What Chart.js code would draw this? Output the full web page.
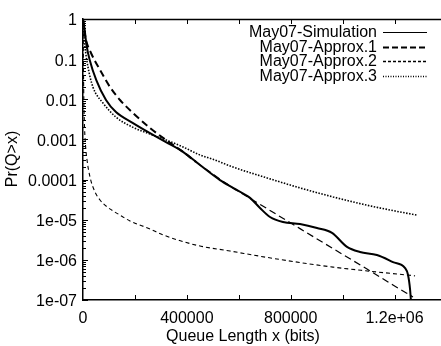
<!DOCTYPE html>
<html>
<head>
<meta charset="utf-8">
<script src="https://cdn.jsdelivr.net/npm/chart.js@4/dist/chart.umd.min.js"></script>
<style>
  html, body { margin: 0; padding: 0; background: #fff; }
  #wrap { width: 441px; height: 346px; }
</style>
</head>
<body>
<div id="wrap"><canvas id="c" width="441" height="346"></canvas></div>
<script>
// ---- data ----
const seriesNames = ['May07-Simulation', 'May07-Approx.1', 'May07-Approx.2', 'May07-Approx.3'];

const simX = [0, 3850, 6550, 13500, 25800, 51200, 88600, 127000, 192600, 258000, 319700, 385200, 450700, 527700, 577800, 643300, 681800, 720300, 770400, 835900, 901400, 959200, 1017000, 1067000, 1132000, 1194000, 1240000, 1252000, 1260000, 1263000];
const simY = [1, 0.71, 0.53, 0.225, 0.095, 0.030, 0.0096, 0.0048, 0.00256, 0.00144, 8.6e-4, 4.9e-4, 2.3e-4, 9.7e-5, 6.2e-5, 3.5e-5, 1.96e-5, 1.17e-5, 8.8e-6, 7.8e-6, 6.2e-6, 4.7e-6, 2.1e-6, 1.57e-6, 1.32e-6, 8.8e-7, 6.3e-7, 4.2e-7, 1.8e-7, 1e-7];

const ap1X = [0, 3850, 11600, 30800, 65500, 104000, 142500, 192600, 258000, 319700, 385200, 435300, 489200, 577800, 708800, 835900, 963000, 1094000, 1194000, 1271000];
const ap1Y = [1, 0.60, 0.30, 0.142, 0.054, 0.0202, 0.0096, 0.00455, 0.00193, 9.7e-4, 4.9e-4, 2.74e-4, 1.54e-4, 6.2e-5, 1.89e-5, 6.0e-6, 1.91e-6, 5.9e-7, 2.36e-7, 1.19e-7];

const ap2X = [0, 1160, 2700, 5000, 9600, 15400, 27000, 46200, 65500, 92400, 142500, 181000, 258000, 308000, 439000, 566000, 747000, 963000, 1094000, 1279000];
const ap2Y = [1, 0.17, 0.017, 0.003, 7.2e-4, 3.1e-4, 1.15e-4, 4.9e-5, 3.1e-5, 2.1e-5, 1.3e-5, 9.3e-6, 5.9e-6, 4.2e-6, 2.3e-6, 1.66e-6, 1.05e-6, 6.6e-7, 5.3e-7, 4.0e-7];

const ap3X = [0, 1900, 7700, 19300, 38500, 77000, 127000, 192600, 258000, 319700, 385200, 450700, 500800, 577800, 708800, 835900, 963000, 1094000, 1202000, 1287000];
const ap3Y = [1, 0.53, 0.20, 0.063, 0.020, 0.0081, 0.0036, 0.0020, 0.00136, 9.7e-4, 6.5e-4, 4.1e-4, 3.2e-4, 2.05e-4, 1.1e-4, 6.2e-5, 3.7e-5, 2.3e-5, 1.65e-5, 1.3e-5];

const xTickValues = [0, 400000, 800000, 1200000];
const xTickLabels = ['0', '400000', '800000', '1.2e+06'];
const yTickValues = [1, 0.1, 0.01, 0.001, 0.0001, 1e-5, 1e-6, 1e-7];
const yTickLabels = ['1', '0.1', '0.01', '0.001', '0.0001', '1e-05', '1e-06', '1e-07'];
const xTitle = 'Queue Length x (bits)';
const yTitle = 'Pr(Q>x)';

// ---- build ----
const pts = (xs, ys) => xs.map((x, i) => ({ x: x, y: ys[i] }));
const FONT = '"Liberation Sans", Arial, Helvetica, sans-serif';

const styles = [
  { borderWidth: 2, borderDash: [], legendWidth: 1.2, legendDash: [] },
  { borderWidth: 1.8, borderDash: [7, 4], legendWidth: 2, legendDash: [6, 3] },
  { borderWidth: 1.1, borderDash: [4, 3], legendWidth: 1.5, legendDash: [3, 2] },
  { borderWidth: 1.6, borderDash: [1.5, 1.5], legendWidth: 1.5, legendDash: [1, 1.5] }
];
const allData = [pts(simX, simY), pts(ap1X, ap1Y), pts(ap2X, ap2Y), pts(ap3X, ap3Y)];

const datasets = allData.map((d, i) => ({
  label: seriesNames[i],
  data: d,
  borderColor: '#000',
  backgroundColor: '#000',
  borderWidth: styles[i].borderWidth,
  borderDash: styles[i].borderDash,
  pointRadius: 0,
  fill: false,
  cubicInterpolationMode: 'monotone',
  segment: i === 1 ? { borderWidth: ctx => (ctx.p0.parsed.x < 420000 ? 2 : 1.2) } : undefined
}));

const decorPlugin = {
  id: 'decor',
  afterDraw(chart) {
    const ctx = chart.ctx;
    const a = chart.chartArea;
    const xs = chart.scales.x, ys = chart.scales.y;
    ctx.save();
    ctx.strokeStyle = '#000';
    ctx.lineWidth = 1.5;
    ctx.setLineDash([]);
    // top border
    ctx.beginPath();
    ctx.moveTo(a.left, a.top + 0.5);
    ctx.lineTo(a.right, a.top + 0.5);
    ctx.stroke();
    // x ticks (inward, bottom and top)
    ctx.lineWidth = 1;
    for (let v = 0; v <= xs.max; v += 200000) {
      const px = Math.round(xs.getPixelForValue(v)) + 0.5;
      if (v === 0) continue;
      ctx.beginPath();
      ctx.moveTo(px, a.bottom); ctx.lineTo(px, a.bottom - 5);
      ctx.moveTo(px, a.top); ctx.lineTo(px, a.top + 5);
      ctx.stroke();
    }
    // y ticks (inward, left), major & minor
    for (let e = -7; e <= 0; e++) {
      for (let m = 1; m <= 9; m++) {
        const v = m * Math.pow(10, e);
        if (v > 1.0000001) break;
        const py = Math.round(ys.getPixelForValue(v)) + 0.5;
        const len = m === 1 ? 5 : 3;
        ctx.beginPath();
        ctx.moveTo(a.left, py); ctx.lineTo(a.left + len, py);
        ctx.stroke();
      }
    }
    // axis titles
    ctx.fillStyle = '#000';
    ctx.font = '16px ' + FONT;
    ctx.textAlign = 'center';
    ctx.textBaseline = 'middle';
    ctx.fillText(xTitle, 243, 337);
    ctx.save();
    ctx.translate(13, 159);
    ctx.rotate(-Math.PI / 2);
    ctx.fillText(yTitle, 0, 0);
    ctx.restore();
    // legend
    const rows = [32, 47, 61, 76];
    ctx.textAlign = 'right';
    ctx.textBaseline = 'middle';
    seriesNames.forEach((name, i) => {
      const y = rows[i];
      ctx.fillText(name, 377, y + 1);
      ctx.beginPath();
      ctx.lineWidth = styles[i].legendWidth;
      ctx.setLineDash(styles[i].legendDash);
      ctx.moveTo(383, y + 0.5);
      ctx.lineTo(427, y + 0.5);
      ctx.stroke();
    });
    ctx.restore();
  }
};

new Chart(document.getElementById('c'), {
  type: 'line',
  data: { datasets: datasets },
  plugins: [decorPlugin],
  options: {
    responsive: false,
    devicePixelRatio: 1,
    animation: false,
    layout: { padding: { top: 19, right: 0, left: 0, bottom: 0 } },
    plugins: { legend: { display: false }, tooltip: { enabled: false }, title: { display: false } },
    scales: {
      x: {
        type: 'linear',
        min: 0,
        max: 1379000,
        grid: { display: false, drawTicks: false },
        border: { display: true, color: '#000', width: 1.5 },
        afterBuildTicks: s => { s.ticks = xTickValues.map(v => ({ value: v })); },
        afterFit: s => { s.height = 46; },
        ticks: {
          autoSkip: false,
          maxRotation: 0,
          padding: 9,
          color: '#000',
          font: { family: FONT, size: 16 },
          callback: (v) => { const k = xTickValues.indexOf(v); return k >= 0 ? xTickLabels[k] : ''; }
        }
      },
      y: {
        type: 'logarithmic',
        min: 1e-7,
        max: 1,
        grid: { display: false, drawTicks: false },
        border: { display: true, color: '#000', width: 1.5 },
        afterBuildTicks: s => { s.ticks = yTickValues.map(v => ({ value: v })); },
        afterFit: s => { s.width = 83; },
        ticks: {
          autoSkip: false,
          padding: 6,
          labelOffset: 2,
          color: '#000',
          font: { family: FONT, size: 16 },
          callback: (v) => { const k = yTickValues.findIndex(t => Math.abs(t - v) / t < 1e-6); return k >= 0 ? yTickLabels[k] : ''; }
        }
      }
    }
  }
});
</script>
</body>
</html>
